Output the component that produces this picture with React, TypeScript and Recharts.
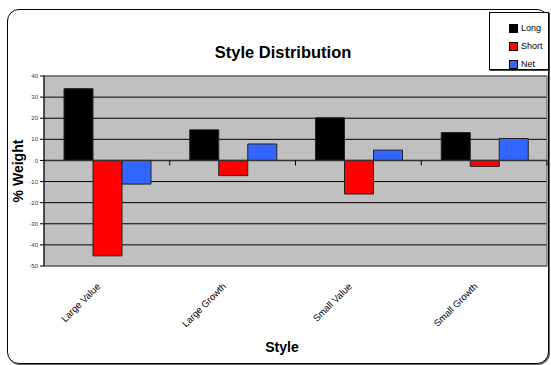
import {
  BarChart,
  Bar,
  XAxis,
  YAxis,
  CartesianGrid,
  ReferenceLine,
  ReferenceArea,
} from "recharts";

const categories = ["Large Value", "Large Growth", "Small Value", "Small Growth"];
const longWeights = [34, 14.5, 20.2, 13.2];
const shortWeights = [-45.2, -7.2, -15.9, -2.8];
const netWeights = [-11.2, 7.8, 4.9, 10.4];
const weightTicks = [-50, -40, -30, -20, -10, 0, 10, 20, 30, 40];
const boundaries = [1, 2, 3, 4];

const series = [
  { key: "Long", color: "#000000" },
  { key: "Short", color: "#FF0000" },
  { key: "Net", color: "#3366FF" },
];

// "style" can't be a field name here: Bar spreads each row into its rect props.
// slot gives the hidden numeric axis something to measure category edges with.
const data = categories.map((category, i) => ({
  category,
  slot: i + 0.5,
  Long: longWeights[i],
  Short: shortWeights[i],
  Net: netWeights[i],
}));

const font = "'Liberation Sans', Arial, sans-serif";

function renderCategoryTick(props: any) {
  const ax = props.x - 6;
  const ay = props.y + 21;
  return (
    <text
      x={ax}
      y={ay}
      transform={`rotate(-45, ${ax}, ${ay})`}
      textAnchor="end"
      fontSize={9.5}
      fontFamily={font}
      fill="#000"
    >
      {props.payload.value}
    </text>
  );
}

function LegendBox() {
  return (
    <div
      style={{
        position: "absolute",
        left: 489,
        top: 12,
        width: 60,
        height: 58,
        border: "1px solid #000",
        boxShadow: "1px 1px 0 #444",
        background: "#fff",
        fontFamily: font,
        fontSize: 9,
        boxSizing: "border-box",
        paddingTop: 6,
      }}
    >
      {series.map((s) => (
        <div
          key={s.key}
          style={{ display: "flex", alignItems: "center", height: 18, paddingLeft: 19 }}
        >
          <span
            style={{
              width: 7,
              height: 7,
              background: s.color,
              border: "1px solid #000",
              marginRight: 3,
            }}
          />
          {s.key}
        </div>
      ))}
    </div>
  );
}

export default function App() {
  return (
    <div style={{ position: "absolute", left: 0, top: 0, width: 551, height: 365 }}>
      {/* rounded outer frame */}
      <div
        style={{
          position: "absolute",
          left: 7,
          top: 9,
          width: 540,
          height: 353,
          border: "1px solid #000",
          borderRadius: 12,
          boxShadow: "1px 1px 0 #666",
          background: "#fff",
        }}
      />
      <div
        style={{
          position: "absolute",
          left: 183,
          top: 43,
          width: 200,
          textAlign: "center",
          fontFamily: font,
          fontWeight: "bold",
          fontSize: 16.5,
        }}
      >
        Style Distribution
      </div>
      <div
        style={{
          position: "absolute",
          left: 232,
          top: 339,
          width: 100,
          textAlign: "center",
          fontFamily: font,
          fontWeight: "bold",
          fontSize: 14,
        }}
      >
        Style
      </div>
      <div
        style={{
          position: "absolute",
          left: 18 - 50,
          top: 171 - 8,
          width: 100,
          height: 16,
          lineHeight: "16px",
          textAlign: "center",
          transform: "rotate(-90deg)",
          fontFamily: font,
          fontWeight: "bold",
          fontSize: 14,
        }}
      >
        % Weight
      </div>
      <div style={{ position: "absolute", left: 0, top: 0 }}>
        <BarChart
          width={551}
          height={365}
          data={data}
          margin={{ top: 76, right: 4, bottom: 0, left: 0 }}
          barCategoryGap={20}
          barGap={0}
        >
          <CartesianGrid vertical={false} stroke="#000" fill="#C0C0C0" fillOpacity={1} />
          <ReferenceArea y1={-50} y2={40} fill="none" stroke="#808080" strokeWidth={1.5} />
          <XAxis
            dataKey="category"
            axisLine={false}
            tickLine={false}
            tickSize={0}
            tickMargin={0}
            height={99}
            interval={0}
            tick={renderCategoryTick}
          />
          <XAxis
            xAxisId="edge"
            dataKey="slot"
            type="number"
            domain={[0, 4]}
            allowDataOverflow
            hide
          />
          <YAxis
            width={44}
            domain={[-50, 40]}
            ticks={weightTicks}
            interval={0}
            axisLine={{ stroke: "#000" }}
            tickLine={{ stroke: "#000" }}
            tickSize={4}
            tickMargin={2}
            tick={{ fontSize: 6, fill: "#333", fontFamily: font }}
          />
          {series.map((s) => (
            <Bar
              key={s.key}
              dataKey={s.key}
              fill={s.color}
              stroke="#222"
              strokeWidth={1}
              isAnimationActive={false}
            />
          ))}
          <ReferenceLine y={0} stroke="#333" strokeWidth={1.5} />
          {boundaries.map((b) => (
            <ReferenceLine
              key={b}
              xAxisId="edge"
              segment={[
                { x: b, y: 0 },
                { x: b, y: -2.4 },
              ]}
              stroke="#000"
              ifOverflow="visible"
            />
          ))}
        </BarChart>
      </div>
      <LegendBox />
    </div>
  );
}
